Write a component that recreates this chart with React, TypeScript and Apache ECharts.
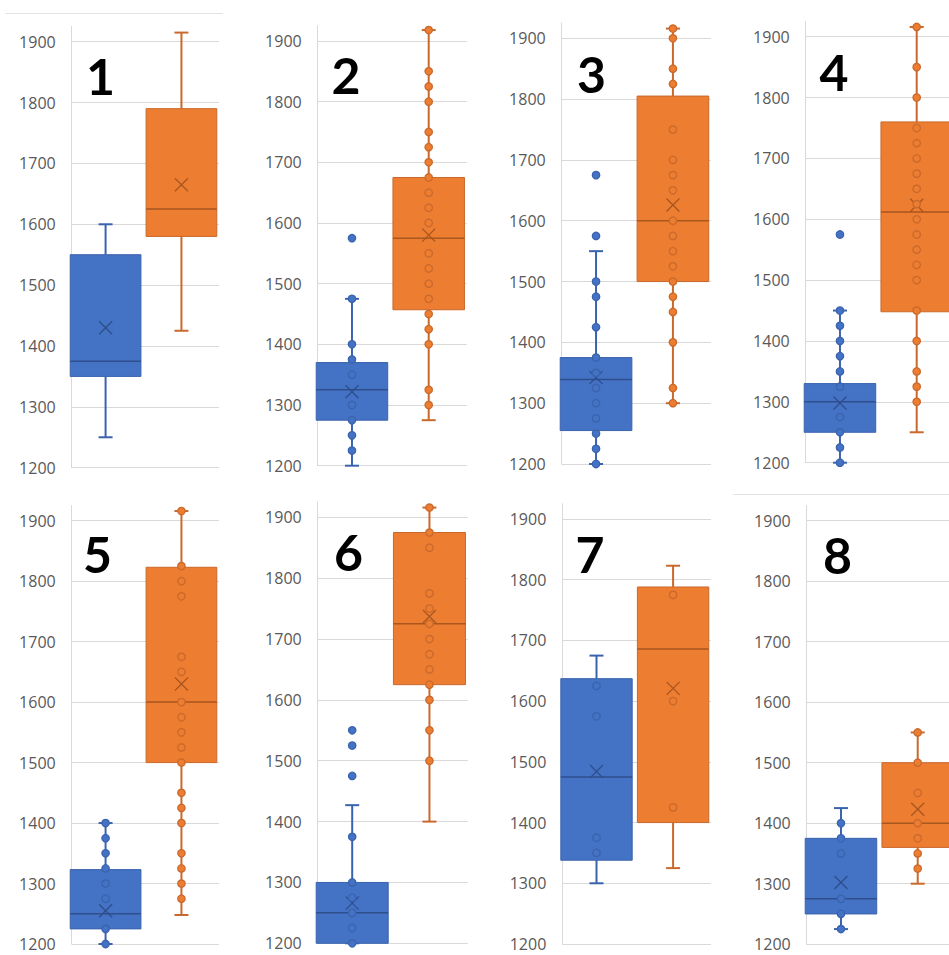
import React, { useEffect, useRef } from "react";
import * as echarts from "echarts";

// ---------- data ----------
const panelLabels = ["1", "2", "3", "4", "5", "6", "7", "8"];
const seriesNames = ["Series1", "Series2"];

// [min, Q1, median, Q3, max]
const blueBoxes = [
  [1250, 1350, 1375, 1550, 1600],
  [1200, 1275, 1325, 1370, 1475],
  [1200, 1255, 1339, 1375, 1550],
  [1200, 1250, 1300, 1330, 1450],
  [1200, 1225, 1250, 1323, 1400],
  [1200, 1200, 1250, 1300, 1427],
  [1300, 1338, 1475, 1637, 1675],
  [1225, 1250, 1275, 1375, 1425],
];
const blueMeans = [1430, 1322, 1342, 1298, 1255, 1266, 1484, 1302];

const orangeBoxes = [
  [1425, 1580, 1625, 1790, 1915],
  [1275, 1457, 1575, 1675, 1918],
  [1300, 1500, 1600, 1805, 1916],
  [1250, 1448, 1612, 1760, 1916],
  [1248, 1500, 1600, 1823, 1916],
  [1400, 1625, 1725, 1875, 1916],
  [1325, 1400, 1686, 1788, 1823],
  [1300, 1360, 1400, 1500, 1550],
];
const orangeMeans = [1665, 1580, 1626, 1623, 1630, 1737, 1621, 1423];

const bluePoints = [
  [],
  [1575, 1475, 1400, 1375, 1350, 1300, 1275, 1250, 1225],
  [1675, 1575, 1500, 1475, 1425, 1375, 1350, 1325, 1300, 1275, 1250, 1225, 1200],
  [1575, 1450, 1425, 1400, 1375, 1350, 1325, 1275, 1250, 1225, 1200],
  [1400, 1375, 1350, 1325, 1300, 1275, 1225, 1200],
  [1550, 1525, 1475, 1375, 1300, 1275, 1250, 1225, 1200],
  [1625, 1575, 1375, 1350],
  [1400, 1375, 1350, 1275, 1250, 1225],
];
const orangePoints = [
  [],
  [1918, 1850, 1825, 1800, 1750, 1725, 1700, 1675, 1650, 1625, 1600, 1550, 1525, 1500, 1475, 1450, 1425, 1400, 1325, 1300],
  [1916, 1900, 1850, 1825, 1750, 1700, 1675, 1650, 1600, 1575, 1550, 1525, 1500, 1475, 1450, 1400, 1325, 1300],
  [1916, 1850, 1800, 1750, 1725, 1700, 1675, 1650, 1625, 1600, 1575, 1550, 1525, 1500, 1450, 1400, 1350, 1325, 1300],
  [1916, 1825, 1800, 1775, 1675, 1650, 1600, 1575, 1550, 1525, 1500, 1450, 1425, 1400, 1350, 1325, 1300, 1275],
  [1916, 1875, 1850, 1775, 1750, 1725, 1700, 1675, 1650, 1625, 1600, 1550, 1500],
  [1775, 1600, 1425],
  [1550, 1500, 1450, 1400, 1375, 1350, 1325],
];

const yMin = 1200;
const yMax = 1925;
const yInterval = 100;

// ---------- layout / style ----------
const gridRects = [
  { left: 71.7, top: 26.5, width: 147.3, height: 441.2 },
  { left: 317.7, top: 25.8, width: 149, height: 439.9 },
  { left: 561.7, top: 23.1, width: 149.3, height: 440.9 },
  { left: 805.7, top: 21.5, width: 149, height: 441.2 },
  { left: 71.7, top: 505.6, width: 147.3, height: 438.4 },
  { left: 317.7, top: 502.1, width: 150, height: 441.2 },
  { left: 562.3, top: 503.8, width: 148.7, height: 440.2 },
  { left: 806.7, top: 505.6, width: 149, height: 438.6 },
];
const labelPos = [
  [100.5, 76], [346, 75], [591.5, 74], [834, 72],
  [97.5, 554], [348.5, 552], [590, 554], [837.5, 555],
];

const FILL = ["#4472C4", "#ED7D31"];
const LINE = ["#3A63AE", "#C9692C"];
const MEANC = ["#2E4F8C", "#A9561F"];
const OFFSET = [-0.04, -0.01];
const GRID_COLOR = "#D9D9D9";

function boxRender(params: any, api: any) {
  const cat = api.value(0) as number;
  const band = api.size([1, 0])[0];
  const cx = api.coord([cat, yMin])[0] + OFFSET[cat] * band;
  const hw = band * 0.48;
  const Y = (i: number) => api.coord([cat, api.value(i)])[1];
  const yLo = Y(1), yQ1 = Y(2), yMed = Y(3), yQ3 = Y(4), yHi = Y(5), yMean = Y(6);
  const line = LINE[cat];
  const cap = 7;
  const m = 6.5;
  return {
    type: "group",
    children: [
      { type: "line", shape: { x1: cx, y1: yQ3, x2: cx, y2: yHi }, style: { stroke: line, lineWidth: 2 } },
      { type: "line", shape: { x1: cx, y1: yQ1, x2: cx, y2: yLo }, style: { stroke: line, lineWidth: 2 } },
      { type: "line", shape: { x1: cx - cap, y1: yHi, x2: cx + cap, y2: yHi }, style: { stroke: line, lineWidth: 2 } },
      { type: "line", shape: { x1: cx - cap, y1: yLo, x2: cx + cap, y2: yLo }, style: { stroke: line, lineWidth: 2 } },
      {
        type: "rect",
        shape: { x: cx - hw, y: yQ3, width: hw * 2, height: yQ1 - yQ3 },
        style: { fill: FILL[cat], stroke: line, lineWidth: 1 },
      },
      { type: "line", shape: { x1: cx - hw, y1: yMed, x2: cx + hw, y2: yMed }, style: { stroke: MEANC[cat], lineWidth: 1.5 } },
      { type: "line", shape: { x1: cx - m, y1: yMean - m, x2: cx + m, y2: yMean + m }, style: { stroke: MEANC[cat], lineWidth: 1.3 } },
      { type: "line", shape: { x1: cx - m, y1: yMean + m, x2: cx + m, y2: yMean - m }, style: { stroke: MEANC[cat], lineWidth: 1.3 } },
    ],
  };
}

function pointRender(params: any, api: any) {
  const cat = api.value(0) as number;
  const band = api.size([1, 0])[0];
  const p = api.coord([cat, api.value(1)]);
  const cx = p[0] + OFFSET[cat] * band;
  return {
    type: "circle",
    shape: { cx, cy: p[1], r: 3.7 },
    style: { fill: FILL[cat], stroke: LINE[cat], lineWidth: 1.3 },
  };
}

function buildOption() {
  const grid: any[] = [];
  const xAxis: any[] = [];
  const yAxis: any[] = [];
  const series: any[] = [];
  const graphic: any[] = [];

  gridRects.forEach((r, i) => {
    grid.push({ ...r, containLabel: false, outerBoundsMode: "none" });
    xAxis.push({
      type: "category",
      gridIndex: i,
      data: seriesNames,
      boundaryGap: true,
      axisLine: { show: false },
      axisTick: { show: false },
      axisLabel: { show: false },
      splitLine: { show: false },
    });
    yAxis.push({
      type: "value",
      gridIndex: i,
      min: yMin,
      max: yMax,
      interval: yInterval,
      axisLine: { show: true, lineStyle: { color: GRID_COLOR, width: 1 } },
      axisTick: { show: false },
      axisLabel: {
        color: "#595959",
        fontSize: 16,
        fontFamily: "Open Sans",
        margin: 16,
        showMaxLabel: false,
        formatter: (v: number) => (v % 100 === 0 ? String(v) : ""),
      },
      splitLine: { show: true, showMaxLine: false, lineStyle: { color: GRID_COLOR, width: 1 } },
    });

    const boxData = [
      [0, ...blueBoxes[i], blueMeans[i]],
      [1, ...orangeBoxes[i], orangeMeans[i]],
    ];
    series.push({
      type: "custom",
      name: "box" + panelLabels[i],
      xAxisIndex: i,
      yAxisIndex: i,
      renderItem: boxRender,
      encode: { x: 0, y: [1, 2, 3, 4, 5] },
      data: boxData,
      z: 2,
    });
    const pts = [
      ...bluePoints[i].map((v) => [0, v]),
      ...orangePoints[i].map((v) => [1, v]),
    ];
    series.push({
      type: "custom",
      name: "points" + panelLabels[i],
      xAxisIndex: i,
      yAxisIndex: i,
      renderItem: pointRender,
      encode: { x: 0, y: 1 },
      data: pts,
      z: 3,
    });

    graphic.push({
      type: "text",
      x: labelPos[i][0],
      y: labelPos[i][1],
      z: 10,
      style: {
        text: panelLabels[i],
        fontSize: 50,
        fontWeight: "bold",
        fontFamily: "Lato",
        fill: "#000000",
        textAlign: "center",
        textVerticalAlign: "middle",
      },
    });
  });

  graphic.push({
    type: "line",
    shape: { x1: 5, y1: 13.5, x2: 223, y2: 13.5 },
    style: { stroke: "#E3E3E3", lineWidth: 1 },
  });
  graphic.push({
    type: "line",
    shape: { x1: 733, y1: 494.5, x2: 949, y2: 494.5 },
    style: { stroke: "#E3E3E3", lineWidth: 1 },
  });

  return {
    animation: false,
    backgroundColor: "#FFFFFF",
    grid,
    xAxis,
    yAxis,
    series,
    graphic,
  };
}

export default function App() {
  const ref = useRef<HTMLDivElement>(null);
  useEffect(() => {
    if (!ref.current) return;
    const chart = echarts.init(ref.current, undefined, { renderer: "svg" });
    chart.setOption(buildOption() as any);
    return () => chart.dispose();
  }, []);
  return (
    <div
      ref={ref}
      style={{ position: "absolute", left: 0, top: 0, width: 949, height: 955 }}
    />
  );
}
